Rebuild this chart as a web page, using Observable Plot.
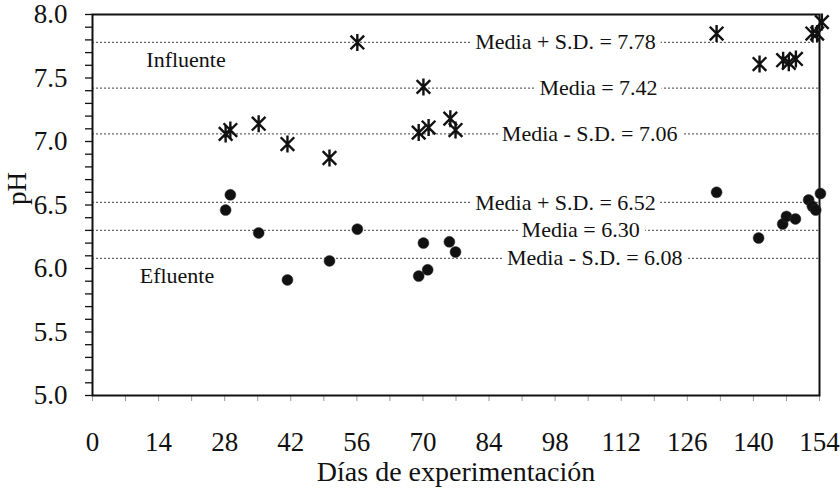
<!DOCTYPE html>
<html>
<head>
<meta charset="utf-8">
<script src="https://cdn.jsdelivr.net/npm/d3@7"></script>
<script src="https://cdn.jsdelivr.net/npm/@observablehq/plot@0.6"></script>
<style>
  html, body { margin: 0; padding: 0; background: #fff; }
  #chart svg { display: block; }
  #chart svg text { font-family: "Liberation Serif", "Times New Roman", serif; }
</style>
</head>
<body>
<div id="chart"></div>
<script>
// Influent pH by experiment day
const influentDays = [28.2, 29.2, 35.2, 41.3, 50.2, 56.1, 69.1, 70.1, 71.2, 75.8, 76.9, 132.2, 141.3, 146.3, 147.5, 149.0, 152.5, 153.5, 154.5];
const influentPH   = [7.06, 7.09, 7.14, 6.98, 6.87, 7.78, 7.07, 7.43, 7.11, 7.18, 7.09, 7.85, 7.61, 7.64, 7.62, 7.65, 7.85, 7.85, 7.94];

// Effluent pH by experiment day
const effluentDays = [28.2, 29.2, 35.2, 41.3, 50.2, 56.1, 69.1, 70.1, 71.0, 75.6, 76.9, 132.2, 141.1, 146.2, 147.0, 148.9, 151.7, 152.5, 153.2, 154.2];
const effluentPH   = [6.46, 6.58, 6.28, 5.91, 6.06, 6.31, 5.94, 6.20, 5.99, 6.21, 6.13, 6.60, 6.24, 6.35, 6.41, 6.39, 6.54, 6.49, 6.46, 6.59];

// Mean and mean ± S.D. reference levels
const refValues   = [7.78, 7.42, 7.06, 6.52, 6.30, 6.08];
const refPrefixes = ["Media + S.D. = ", "Media = ", "Media - S.D. = ", "Media + S.D. = ", "Media = ", "Media - S.D. = "];
const refLabelDay = [100.2, 107.2, 105.3, 100.2, 103.4, 106.4];

// Series names
const seriesNames = ["Influente", "Efluente"];
const seriesNameDay = [11.4, 10.0];
const seriesNamePH  = [7.64, 5.94];

// Axis ticks
const xTicks = d3.range(0, 155, 14);
const xMinorTicks = d3.range(0, 155, 7);
const yTicks = [5.0, 5.5, 6.0, 6.5, 7.0, 7.5, 8.0];
const yMinorTicks = d3.range(50, 81, 1).map(d => d / 10);

const influent = influentDays.map((d, i) => ({day: d, ph: influentPH[i]}));
const effluent = effluentDays.map((d, i) => ({day: d, ph: effluentPH[i]}));
const refs = refValues.map((v, i) => ({value: v, day: refLabelDay[i], label: refPrefixes[i] + v.toFixed(2)}));
const names = seriesNames.map((n, i) => ({name: n, day: seriesNameDay[i], ph: seriesNamePH[i]}));

// Six-armed star: a vertical bar crossed by an X
const starSymbol = {
  draw(context, size) {
    const r = Math.sqrt(size / Math.PI);
    const d = r * 0.8;
    context.moveTo(0, -r); context.lineTo(0, r);
    context.moveTo(-d, -d); context.lineTo(d, d);
    context.moveTo(-d, d); context.lineTo(d, -d);
  }
};

const serif = "'Liberation Serif', 'Times New Roman', serif";
const ink = "#111";

const chart = Plot.plot({
  width: 840,
  height: 491,
  marginLeft: 92,
  marginRight: 21,
  marginTop: 14,
  marginBottom: 96,
  style: {fontFamily: serif, background: "#fff", color: ink},
  x: {domain: [0, 154], axis: null},
  y: {domain: [5, 8], axis: null},
  marks: [
    // dotted reference levels
    Plot.ruleY(refs, {y: "value", stroke: "#666", strokeWidth: 1.2, strokeDasharray: "2,2"}),
    // level labels with a white halo that opens a gap in the line
    Plot.text(refs, {x: "day", y: "value", text: "label", fontSize: 22, fill: ink,
      stroke: "#fff", strokeWidth: 12, paintOrder: "stroke"}),
    Plot.text(names, {x: "day", y: "ph", text: "name", fontSize: 22, fill: ink, textAnchor: "start"}),
    // tick marks
    Plot.axisY(yMinorTicks, {tickSize: 7, text: null, stroke: ink, strokeWidth: 1.3, label: null}),
    Plot.axisX(xMinorTicks, {tickSize: 6, text: null, stroke: "#999", label: null}),
    // tick labels
    Plot.text(yTicks, {y: d => d, frameAnchor: "left", dx: -25, textAnchor: "end", lineAnchor: "middle",
      text: d3.format(".1f"), fontSize: 27, fill: ink}),
    Plot.text(xTicks, {x: d => d, frameAnchor: "bottom", dy: 47, lineAnchor: "middle",
      text: d => String(d), fontSize: 27, fill: ink}),
    // axis titles
    Plot.text(["Días de experimentación"], {frameAnchor: "bottom", dy: 77, lineAnchor: "middle",
      fontSize: 28, fill: ink}),
    Plot.text(["pH"], {frameAnchor: "left", dx: -75, rotate: -90, lineAnchor: "middle",
      fontSize: 27, fill: ink}),
    Plot.frame({stroke: ink, strokeWidth: 2}),
    // data
    Plot.dot(effluent, {x: "day", y: "ph", r: 5.5, fill: ink, stroke: "#333", strokeWidth: 0.5}),
    Plot.dot(influent, {x: "day", y: "ph", r: 8.5, symbol: starSymbol, stroke: ink, strokeWidth: 2.4})
  ]
});

document.getElementById("chart").appendChild(chart);
</script>
</body>
</html>
